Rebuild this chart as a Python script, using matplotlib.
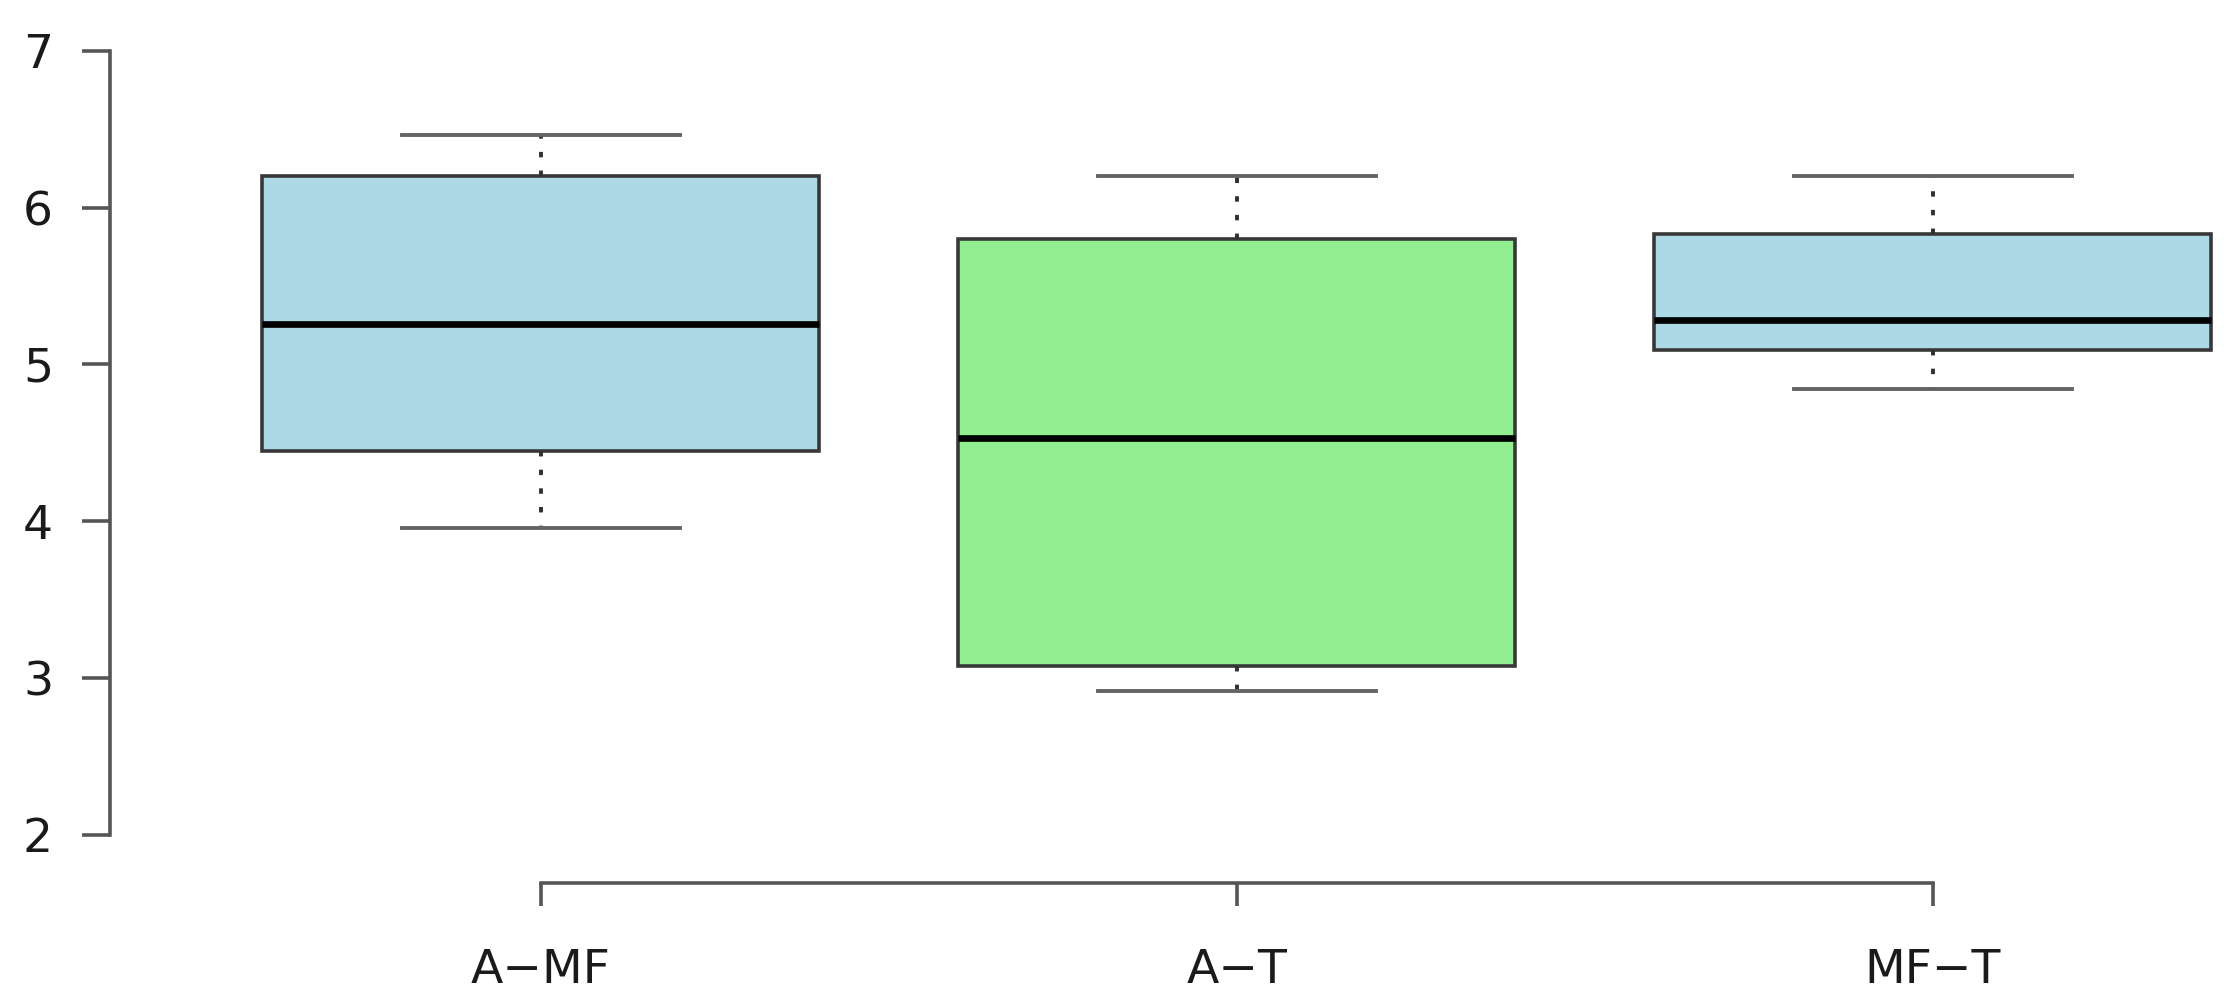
import matplotlib
matplotlib.use("Agg")
import matplotlib.pyplot as plt

# ---- data ----
categories = ["A\u2212MF", "A\u2212T", "MF\u2212T"]
whisker_low = [3.96, 2.92, 4.84]
q1_values = [4.45, 3.08, 5.09]
medians = [5.26, 4.53, 5.28]
q3_values = [6.20, 5.80, 5.83]
whisker_high = [6.46, 6.20, 6.20]
box_colors = ["#ADD8E6", "#90EE90", "#ADD8E6"]
y_ticks = [2, 3, 4, 5, 6, 7]

plt.rcParams["font.family"] = ["DejaVu Sans"]

W, H, DPI = 2231, 1007, 100
fig = plt.figure(figsize=(W / DPI, H / DPI), dpi=DPI)
left_px, bottom_px = 110, 1007 - 883.3
ax = fig.add_axes([left_px / W, bottom_px / H, 1 - left_px / W, 1 - bottom_px / H])

stats = []
for lab, lo, a, m, b, hi in zip(categories, whisker_low, q1_values, medians, q3_values, whisker_high):
    stats.append(dict(label=lab, whislo=lo, q1=a, med=m, q3=b, whishi=hi, fliers=[]))

positions = list(range(1, len(categories) + 1))
bp = ax.bxp(
    stats, positions=positions, widths=0.8, capwidths=0.4, patch_artist=True,
    showfliers=False,
    boxprops=dict(edgecolor="#383838", linewidth=2.6),
    medianprops=dict(color="black", linewidth=4.8, solid_capstyle="butt"),
    whiskerprops=dict(color="#303030", linewidth=2.8, linestyle=(0, (1.4, 3.4))),
    capprops=dict(color="#646464", linewidth=2.8),
)
for patch, c in zip(bp["boxes"], box_colors):
    patch.set_facecolor(c)

ax.set_xlim(0.381, 3.4286)
ax.set_ylim(1.692, 7.323)

ax.spines["top"].set_visible(False)
ax.spines["right"].set_visible(False)
for s in ("left", "bottom"):
    ax.spines[s].set_color("#555555")
    ax.spines[s].set_linewidth(2.6)
ax.spines["left"].set_bounds(y_ticks[0], y_ticks[-1])
ax.spines["bottom"].set_bounds(positions[0], positions[-1])

ax.set_yticks(y_ticks)
ax.set_yticklabels([str(t) for t in y_ticks])
ax.set_xticks(positions)
ax.set_xticklabels(categories)
ax.tick_params(axis="y", length=20, width=2.6, color="#555555", pad=21,
               labelsize=34, labelcolor="#1a1a1a")
ax.tick_params(axis="x", length=16.5, width=2.6, color="#555555", pad=30,
               labelsize=34, labelcolor="#1a1a1a")
ax.patch.set_alpha(0)

fig.savefig("out.png", dpi=DPI)
